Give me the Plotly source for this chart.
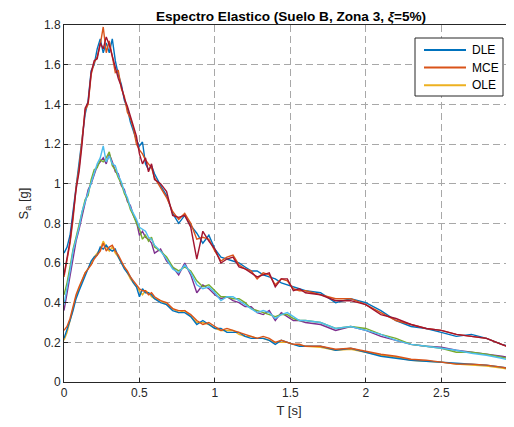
import plotly.graph_objects as go

T = [0.00, 0.02, 0.04, 0.06, 0.08, 0.10, 0.12, 0.14, 0.16, 0.18, 0.20, 0.22, 0.24, 0.26, 0.28, 0.30,
     0.32, 0.34, 0.36, 0.38, 0.40, 0.42, 0.44, 0.46, 0.48, 0.50, 0.52, 0.54, 0.56, 0.58, 0.60,
     0.64, 0.68, 0.72, 0.76, 0.80, 0.84, 0.88, 0.92, 0.96, 1.00, 1.04, 1.08, 1.12, 1.16, 1.20,
     1.24, 1.28, 1.32, 1.36, 1.40, 1.44, 1.48, 1.52, 1.56, 1.60,
     1.70, 1.80, 1.90, 2.00, 2.10, 2.20, 2.30, 2.40, 2.50, 2.60, 2.70, 2.80, 2.90, 3.00]

# Upper group (MCE-level records)
mce_blue = [0.65, 0.68, 0.74, 0.86, 1.00, 1.10, 1.24, 1.35, 1.42, 1.57, 1.60, 1.68, 1.73, 1.66, 1.71, 1.66,
            1.73, 1.62, 1.55, 1.50, 1.42, 1.38, 1.31, 1.26, 1.22, 1.19, 1.21, 1.10, 1.07, 1.09, 1.05,
            0.99, 0.94, 0.85, 0.80, 0.84, 0.79, 0.75, 0.70, 0.74, 0.67, 0.63, 0.62, 0.61, 0.60, 0.58,
            0.56, 0.56, 0.54, 0.53, 0.52, 0.50, 0.49, 0.48, 0.47, 0.46,
            0.45, 0.40, 0.42, 0.40, 0.36, 0.31, 0.28, 0.27, 0.25, 0.23, 0.24, 0.22, 0.19, 0.17]
mce_orange = [0.53, 0.61, 0.70, 0.82, 0.98, 1.08, 1.22, 1.37, 1.40, 1.55, 1.61, 1.64, 1.70, 1.79, 1.66, 1.72,
              1.64, 1.56, 1.57, 1.48, 1.44, 1.36, 1.33, 1.28, 1.20, 1.17, 1.15, 1.12, 1.10, 1.08, 1.03,
              0.98, 0.93, 0.86, 0.82, 0.85, 0.80, 0.72, 0.73, 0.72, 0.66, 0.61, 0.63, 0.64, 0.59, 0.57,
              0.56, 0.52, 0.55, 0.54, 0.49, 0.52, 0.51, 0.47, 0.46, 0.46,
              0.44, 0.42, 0.42, 0.39, 0.35, 0.31, 0.29, 0.27, 0.26, 0.24, 0.23, 0.22, 0.19, 0.16]
mce_darkred = [0.54, 0.62, 0.71, 0.84, 0.97, 1.06, 1.20, 1.38, 1.41, 1.56, 1.62, 1.63, 1.71, 1.68, 1.74, 1.70,
               1.64, 1.58, 1.53, 1.49, 1.43, 1.39, 1.34, 1.29, 1.24, 1.15, 1.10, 1.13, 1.06, 1.10, 1.02,
               1.00, 0.96, 0.84, 0.83, 0.84, 0.78, 0.62, 0.76, 0.71, 0.67, 0.60, 0.62, 0.63, 0.58, 0.57,
               0.55, 0.53, 0.54, 0.55, 0.48, 0.52, 0.52, 0.46, 0.47, 0.45,
               0.44, 0.41, 0.41, 0.39, 0.34, 0.32, 0.29, 0.27, 0.26, 0.24, 0.23, 0.22, 0.19, 0.16]

# Middle group (DLE-level records)
dle_purple = [0.36, 0.45, 0.55, 0.64, 0.71, 0.77, 0.84, 0.90, 0.97, 1.00, 1.05, 1.09, 1.11, 1.13, 1.10, 1.15,
              1.11, 1.06, 1.05, 0.99, 0.97, 0.91, 0.89, 0.84, 0.81, 0.74, 0.76, 0.73, 0.72, 0.70, 0.65,
              0.67, 0.61, 0.58, 0.54, 0.60, 0.54, 0.45, 0.49, 0.47, 0.44, 0.42, 0.43, 0.41, 0.40, 0.38,
              0.38, 0.35, 0.34, 0.36, 0.31, 0.35, 0.33, 0.31, 0.31, 0.30,
              0.29, 0.26, 0.28, 0.26, 0.23, 0.21, 0.19, 0.18, 0.175, 0.16, 0.15, 0.14, 0.13, 0.115]
dle_green = [0.44, 0.50, 0.58, 0.67, 0.73, 0.79, 0.85, 0.92, 0.94, 1.02, 1.07, 1.08, 1.12, 1.11, 1.13, 1.16,
             1.09, 1.07, 1.03, 1.00, 0.95, 0.92, 0.87, 0.84, 0.80, 0.77, 0.72, 0.74, 0.71, 0.73, 0.68,
             0.66, 0.63, 0.58, 0.56, 0.58, 0.56, 0.51, 0.48, 0.49, 0.46, 0.43, 0.43, 0.42, 0.42, 0.40,
             0.37, 0.36, 0.35, 0.34, 0.33, 0.34, 0.34, 0.32, 0.31, 0.31,
             0.30, 0.27, 0.28, 0.27, 0.24, 0.22, 0.19, 0.18, 0.17, 0.15, 0.15, 0.14, 0.125, 0.11]
dle_cyan = [0.39, 0.47, 0.56, 0.66, 0.72, 0.78, 0.86, 0.91, 0.95, 1.01, 1.06, 1.10, 1.13, 1.19, 1.11, 1.14,
            1.10, 1.09, 1.04, 1.01, 0.96, 0.93, 0.88, 0.85, 0.82, 0.78, 0.77, 0.76, 0.73, 0.72, 0.69,
            0.66, 0.62, 0.57, 0.55, 0.59, 0.55, 0.49, 0.47, 0.48, 0.45, 0.41, 0.43, 0.43, 0.41, 0.39,
            0.37, 0.35, 0.36, 0.35, 0.32, 0.34, 0.35, 0.33, 0.31, 0.31,
            0.30, 0.27, 0.28, 0.26, 0.24, 0.21, 0.19, 0.18, 0.17, 0.16, 0.145, 0.135, 0.12, 0.10]

# Lower group (OLE-level records)
ole_blue = [0.22, 0.26, 0.31, 0.36, 0.42, 0.46, 0.50, 0.54, 0.58, 0.61, 0.63, 0.64, 0.68, 0.67, 0.69, 0.67,
            0.66, 0.67, 0.63, 0.60, 0.57, 0.55, 0.53, 0.50, 0.48, 0.43, 0.47, 0.45, 0.45, 0.44, 0.42,
            0.40, 0.39, 0.36, 0.35, 0.35, 0.33, 0.29, 0.31, 0.29, 0.27, 0.27, 0.25, 0.25, 0.25, 0.23,
            0.22, 0.22, 0.22, 0.21, 0.19, 0.21, 0.20, 0.19, 0.18, 0.18,
            0.18, 0.16, 0.17, 0.15, 0.13, 0.12, 0.11, 0.105, 0.10, 0.095, 0.09, 0.085, 0.075, 0.065]
ole_orange = [0.26, 0.28, 0.32, 0.38, 0.44, 0.48, 0.52, 0.55, 0.57, 0.59, 0.62, 0.64, 0.66, 0.70, 0.66, 0.68,
              0.69, 0.66, 0.64, 0.61, 0.58, 0.56, 0.53, 0.51, 0.49, 0.47, 0.46, 0.46, 0.44, 0.45, 0.43,
              0.41, 0.40, 0.37, 0.36, 0.36, 0.34, 0.31, 0.29, 0.30, 0.28, 0.26, 0.27, 0.26, 0.25, 0.24,
              0.23, 0.22, 0.23, 0.22, 0.20, 0.21, 0.20, 0.19, 0.19, 0.18,
              0.18, 0.165, 0.17, 0.155, 0.14, 0.13, 0.115, 0.11, 0.10, 0.09, 0.09, 0.085, 0.075, 0.06]
ole_yellow = [0.21, 0.25, 0.31, 0.37, 0.43, 0.47, 0.51, 0.55, 0.57, 0.60, 0.63, 0.65, 0.67, 0.71, 0.68, 0.66,
              0.68, 0.65, 0.63, 0.60, 0.58, 0.55, 0.52, 0.50, 0.48, 0.46, 0.44, 0.46, 0.45, 0.43, 0.42,
              0.41, 0.39, 0.37, 0.35, 0.36, 0.33, 0.30, 0.30, 0.29, 0.27, 0.26, 0.26, 0.26, 0.24, 0.23,
              0.23, 0.22, 0.22, 0.21, 0.20, 0.20, 0.20, 0.19, 0.185, 0.18,
              0.175, 0.16, 0.165, 0.15, 0.135, 0.125, 0.11, 0.105, 0.10, 0.09, 0.085, 0.08, 0.07, 0.06]

x_ticks = [0, 0.5, 1, 1.5, 2, 2.5, 3]
x_tick_text = ["0", "0.5", "1", "1.5", "2", "2.5", "3"]
y_ticks = [0, 0.2, 0.4, 0.6, 0.8, 1.0, 1.2, 1.4, 1.6, 1.8]
y_tick_text = ["0", "0.2", "0.4", "0.6", "0.8", "1", "1.2", "1.4", "1.6", "1.8"]
legend_names = ["DLE", "MCE", "OLE"]

BLUE, ORANGE, YELLOW = "#0072BD", "#D95319", "#EDB120"
PURPLE, GREEN, CYAN, DARKRED = "#7E2F8E", "#77AC30", "#4DBEEE", "#A2142F"
legend_colors = [BLUE, ORANGE, YELLOW]

series = [
    (mce_blue, BLUE, "DLE"),
    (mce_orange, ORANGE, "MCE"),
    (ole_yellow, YELLOW, "OLE"),
    (dle_purple, PURPLE, "DLE"),
    (dle_green, GREEN, "DLE"),
    (dle_cyan, CYAN, "DLE"),
    (mce_darkred, DARKRED, "MCE"),
    (ole_blue, BLUE, "OLE"),
    (ole_orange, ORANGE, "OLE"),
]

fig = go.Figure()
for vals, col, name in series:
    fig.add_trace(go.Scatter(x=T, y=vals, mode="lines", name=name, showlegend=False,
                             line=dict(color=col, width=1.4)))

FONT = "Liberation Sans, Arial, sans-serif"
AX = "#262626"

# page body has an 8px margin: figure occupies page x 8..514, y 8..427
W, H = 506, 419
L, TOP, B = 56, 17, 45
PW, PH = W - L, H - TOP - B


def px(page_x):
    return (page_x - 8 - L) / PW


def py(page_y):
    return 1 - (page_y - 8 - TOP) / PH


fig.update_layout(
    width=W, height=H,
    margin=dict(l=L, r=0, t=TOP, b=B, autoexpand=False),
    paper_bgcolor="white", plot_bgcolor="white",
    font=dict(family=FONT, size=11, color=AX),
    title=dict(text="<b>Espectro Elastico (Suelo B, Zona 3, <i>ξ</i>=5%)</b>",
               x=px(291), xref="paper", xanchor="center",
               y=1 - 8.0 / H, yref="container", yanchor="middle",
               font=dict(size=13.6, color="black")),
    showlegend=False,
)

# legend box drawn by hand to match the compact MATLAB legend
fig.add_shape(type="rect", xref="paper", yref="paper", x0=px(415), x1=px(503), y0=py(96), y1=py(38),
              line=dict(color=AX, width=1), fillcolor="white", layer="above")
for i, (nm, col) in enumerate(zip(legend_names, legend_colors)):
    yy = 50 + i * 17.6
    fig.add_shape(type="line", xref="paper", yref="paper", x0=px(424), x1=px(466), y0=py(yy), y1=py(yy),
                  line=dict(color=col, width=2), layer="above")
    fig.add_annotation(xref="paper", yref="paper", x=px(470), y=py(yy), text=nm, showarrow=False,
                       xanchor="left", yanchor="middle", font=dict(size=12, color="black", family=FONT))

fig.update_xaxes(range=[0, PW / 150.9], tickvals=x_ticks, ticktext=x_tick_text, automargin=False,
                 showline=True, linecolor=AX, linewidth=1, mirror=True,
                 ticks="inside", ticklen=4, tickcolor=AX,
                 showgrid=True, gridcolor="#a8a8a8", griddash="7px,4px", gridwidth=1,
                 zeroline=False, tickfont=dict(size=12, color=AX),
                 title=dict(text="T [s]", font=dict(size=13, color=AX), standoff=6))
fig.update_yaxes(range=[0, 1.8], tickvals=y_ticks, ticktext=y_tick_text, automargin=False,
                 showline=True, linecolor=AX, linewidth=1, mirror=False,
                 ticks="inside", ticklen=4, tickcolor=AX,
                 showgrid=True, gridcolor="#a8a8a8", griddash="7px,4px", gridwidth=1,
                 zeroline=False, tickfont=dict(size=12, color=AX),
                 title=dict(text="S<sub>a</sub> [g]", font=dict(size=13, color=AX), standoff=12))

# tick label "3" sits on the cropped right edge of the reference
fig.add_annotation(xref="paper", yref="paper", x=3 * 150.9 / PW, y=0, text="3", showarrow=False,
                   xanchor="center", yanchor="top", yshift=-8, font=dict(size=12, color=AX, family=FONT))

fig.write_html("out.html")
